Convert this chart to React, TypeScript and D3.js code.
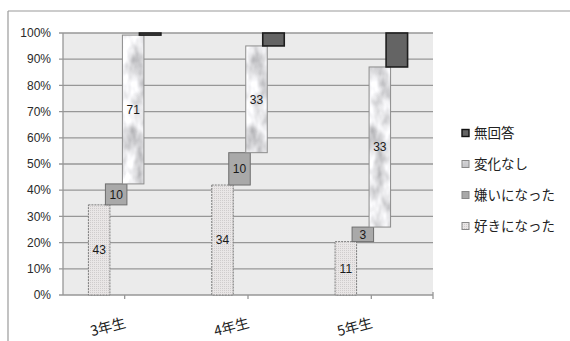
import React from "react";
import * as d3 from "d3";

// Survey responses per grade (counts)
const grades = ["3年生", "4年生", "5年生"];
const seriesNames = ["好きになった", "嫌いになった", "変化なし", "無回答"];
const liked = [43, 34, 11];
const disliked = [10, 10, 3];
const unchanged = [71, 33, 33];
const noAnswer = [1, 4, 7];
const yTicks = [0, 0.1, 0.2, 0.3, 0.4, 0.5, 0.6, 0.7, 0.8, 0.9, 1];
const showLabel = [true, true, true, false];

const W = 570;
const H = 341;
const plot = { left: 63, right: 433, top: 33, bottom: 295 };

export default function App() {
  const x = d3.scaleBand<string>().domain(grades).range([plot.left, plot.right]).padding(0);
  const y = d3.scaleLinear().domain([0, 1]).range([plot.bottom, plot.top]);
  const pct = d3.format(".0%");

  const seriesValues = [liked, disliked, unchanged, noAnswer];
  const barW = 21.5;
  const step = 17;

  const fills = ["url(#dots)", "#a9a9a9", "url(#marbleFill)", "#646464"];
  const strokes = ["#7c7c7c", "#6e6e6e", "#8c8c8c", "#1e1e1e"];
  const strokeW = [1, 1, 1, 1.6];

  const bars: any[] = [];
  grades.forEach((g, gi) => {
    const total = d3.sum(seriesValues, (s) => s[gi]);
    let cum = 0;
    const cx = (x(g) as number) + x.bandwidth() / 2;
    seriesValues.forEach((s, si) => {
      const v = s[gi];
      const start = cum / total;
      cum += v;
      const end = cum / total;
      const left = cx + (si - 1.5) * step - barW / 2;
      bars.push({ gi, si, v, start, end, left });
    });
  });

  const legendOrder = [3, 2, 1, 0];

  return (
    <svg width={W} height={H} style={{ position: "absolute", left: 0, top: 0, background: "#fff" }}>
      <defs>
        <pattern id="dots" width="2" height="2" patternUnits="userSpaceOnUse">
          <rect width="2" height="2" fill="#e9e6e6" />
          <rect x="0" y="0" width="1" height="1" fill="#cfcccc" />
        </pattern>
        <filter id="marble" x="0" y="0" width="100%" height="100%">
          <feTurbulence type="fractalNoise" baseFrequency="0.07 0.04" numOctaves="3" seed="7" result="noise" />
          <feColorMatrix
            in="noise"
            type="matrix"
            values="1.15 0 0 0 0.22  1.15 0 0 0 0.22  1.15 0 0 0 0.24  0 0 0 0 1"
          />
        </filter>
        <pattern id="marbleFill" width="60" height="300" patternUnits="userSpaceOnUse">
          <rect width="60" height="300" fill="#d8d8d8" filter="url(#marble)" />
        </pattern>
      </defs>

      {/* outer chart frame */}
      <line x1={8} x2={W} y1={11} y2={11} stroke="#9a9a9a" strokeWidth={1.2} />
      <line x1={8} x2={8} y1={11} y2={H} stroke="#9a9a9a" strokeWidth={1.2} />

      {/* plot area */}
      <rect
        x={plot.left}
        y={plot.top}
        width={plot.right - plot.left}
        height={plot.bottom - plot.top}
        fill="#ebebeb"
      />
      {yTicks.map((t) => (
        <line
          key={t}
          x1={plot.left - 4}
          x2={plot.right}
          y1={y(t)}
          y2={y(t)}
          stroke="#979797"
          strokeWidth={1.3}
        />
      ))}
      <line x1={plot.left} x2={plot.left} y1={plot.top} y2={plot.bottom} stroke="#979797" strokeWidth={1.3} />
      {grades.map((g) => {
        const cx = (x(g) as number) + x.bandwidth() / 2;
        return <line key={g} x1={cx} x2={cx} y1={plot.bottom} y2={plot.bottom + 4} stroke="#979797" strokeWidth={1.3} />;
      })}
      <line x1={plot.right} x2={plot.right} y1={plot.bottom - 3} y2={plot.bottom + 4} stroke="#979797" strokeWidth={1.3} />

      {/* y axis labels */}
      {yTicks.map((t) => (
        <text
          key={t}
          x={51}
          y={y(t)}
          dy="0.35em"
          textAnchor="end"
          fontFamily="Liberation Sans, Arial, sans-serif"
          fontSize={12}
          fill="#2a2a2a"
        >
          {pct(t)}
        </text>
      ))}

      {/* bars */}
      {bars.map((b) => (
        <rect
          key={`${b.gi}-${b.si}`}
          x={b.left}
          y={y(b.end)}
          width={barW}
          height={y(b.start) - y(b.end)}
          fill={fills[b.si]}
          stroke={strokes[b.si]}
          strokeWidth={strokeW[b.si]}
          strokeDasharray={b.si === 0 ? "2 1" : undefined}
        />
      ))}
      {bars
        .filter((b) => showLabel[b.si])
        .map((b) => (
          <text
            key={`l-${b.gi}-${b.si}`}
            x={b.left + barW / 2}
            y={y((b.start + b.end) / 2)}
            dy="0.36em"
            textAnchor="middle"
            fontFamily="Liberation Sans, Arial, sans-serif"
            fontSize={12}
            fill="#1a1a1a"
          >
            {b.v}
          </text>
        ))}

      {/* category labels */}
      {grades.map((g) => {
        const cx = (x(g) as number) + x.bandwidth() / 2 + 2;
        const ly = 327;
        return (
          <text
            key={g}
            x={cx}
            y={ly}
            transform={`rotate(-15, ${cx}, ${ly})`}
            textAnchor="end"
            fontFamily="Noto Sans CJK JP, sans-serif"
            fontSize={14}
            fill="#222"
          >
            {g}
          </text>
        );
      })}

      {/* legend */}
      {legendOrder.map((si, i) => {
        const ly = 133 + i * 31;
        return (
          <g key={si}>
            <rect
              x={462}
              y={ly - 3.5}
              width={7}
              height={7}
              fill={fills[si]}
              stroke={si === 3 ? "#111" : "#888"}
              strokeWidth={si === 3 ? 1.4 : 1}
            />
            <text
              x={474}
              y={ly}
              dy="0.36em"
              fontFamily="Noto Sans CJK JP, sans-serif"
              fontSize={13.5}
              fill="#222"
            >
              {seriesNames[si]}
            </text>
          </g>
        );
      })}
    </svg>
  );
}
